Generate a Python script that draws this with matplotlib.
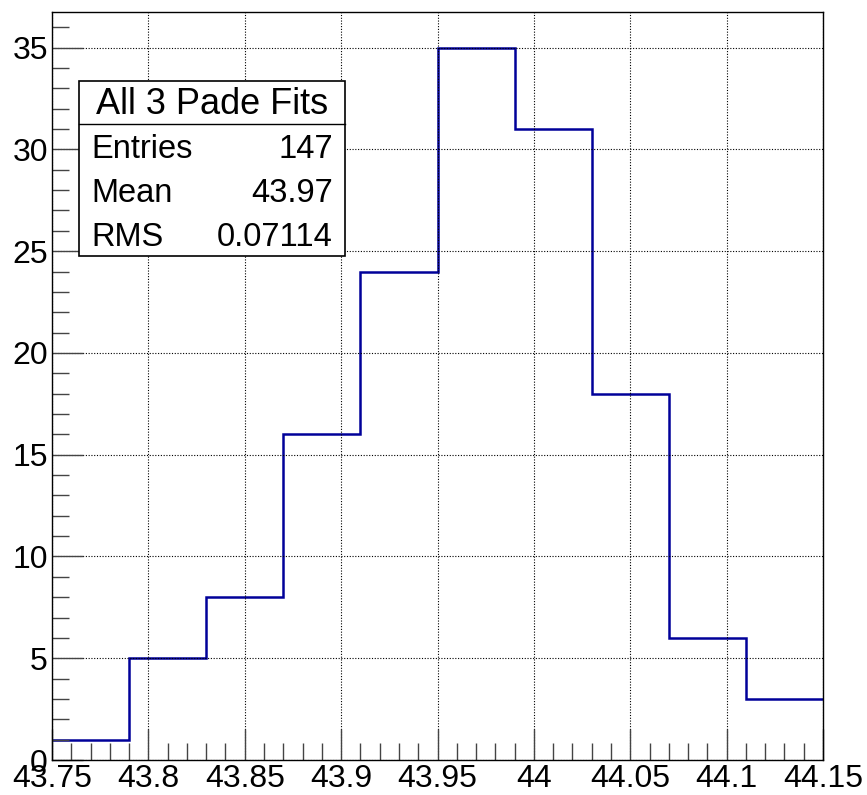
import matplotlib.pyplot as plt
from matplotlib.ticker import MultipleLocator
from matplotlib.patches import Rectangle
import numpy as np

plt.rcParams['font.family'] = ['Liberation Sans', 'DejaVu Sans']

# histogram data
bin_edges = [43.75, 43.79, 43.83, 43.87, 43.91, 43.95, 43.99, 44.03, 44.07, 44.11, 44.15]
counts = [1, 5, 8, 16, 24, 35, 31, 18, 6, 3]
stats_title = 'All 3 Pade Fits'
stats_rows = [('Entries', '147'), ('Mean', '43.97'), ('RMS', '0.07114')]

fig = plt.figure(figsize=(8.67, 7.95), dpi=100)
ax = fig.add_axes([52/867, 35/795, 771/867, 748/795])

ax.stairs(counts, bin_edges, color='#000099', linewidth=1.8, baseline=None)

ax.set_xlim(43.75, 44.15)
ax.set_ylim(0, max(counts) * 1.05)

ax.xaxis.set_major_locator(MultipleLocator(0.05))
ax.xaxis.set_minor_locator(MultipleLocator(0.01))
ax.yaxis.set_major_locator(MultipleLocator(5))
ax.yaxis.set_minor_locator(MultipleLocator(1))
ax.set_xticks(np.round(np.arange(43.75, 44.1501, 0.05), 2))
ax.set_xticklabels(['43.75', '43.8', '43.85', '43.9', '43.95', '44', '44.05', '44.1', '44.15'])

ax.tick_params(which='both', direction='in', top=False, right=False, labelsize=23, color='#444444')
ax.tick_params(which='major', length=22, width=1)
ax.tick_params(which='minor', length=12, width=1)
ax.tick_params(axis='x', pad=3)
ax.tick_params(axis='y', pad=3)

ax.grid(True, which='major', linestyle=(0, (1, 1.5)), color='black', linewidth=0.8)
for s in ax.spines.values():
    s.set_linewidth(1)

# stats box (ROOT style)
x0, x1 = 79/867, 345/867
y_top, y_div, y_bot = 1 - 81/795, 1 - 124/795, 1 - 256/795
fig.patches.append(Rectangle((x0, y_bot), x1 - x0, y_top - y_bot, transform=fig.transFigure,
                             facecolor='white', edgecolor='black', linewidth=1.2, zorder=5))
fig.add_artist(plt.Line2D([x0, x1], [y_div, y_div], transform=fig.transFigure,
                          color='black', linewidth=1, zorder=6))
fig.text((x0 + x1) / 2, (y_top + y_div) / 2 - 2/795, stats_title, ha='center', va='center',
         fontsize=26, zorder=7)
row_h = (y_div - y_bot) / len(stats_rows)
for i, (k, v) in enumerate(stats_rows):
    yc = y_div - (i + 0.5) * row_h - 4/795
    fig.text(x0 + 12/867, yc, k, ha='left', va='center', fontsize=23.5, zorder=7)
    fig.text(x1 - 12/867, yc, v, ha='right', va='center', fontsize=23.5, zorder=7)

fig.savefig('out.png', dpi=100, facecolor='white')
